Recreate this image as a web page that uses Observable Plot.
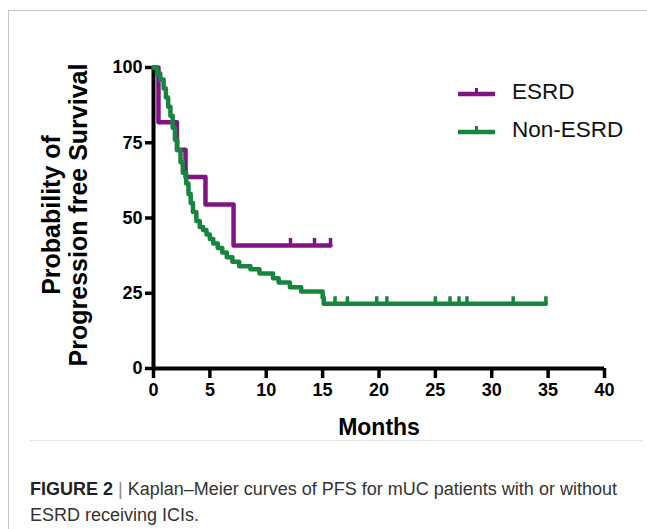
<!DOCTYPE html>
<html><head><meta charset="utf-8">
<script src="https://cdn.jsdelivr.net/npm/d3@7"></script>
<script src="https://cdn.jsdelivr.net/npm/@observablehq/plot@0.6"></script>
<style>
body{margin:0;background:#fff;font-family:"Liberation Sans",Arial,sans-serif;}
#wrap{position:relative;width:647px;height:529px;overflow:hidden;background:#fff;}
#frame{position:absolute;left:8px;top:10px;width:700px;height:600px;border-left:1.5px solid #c4c4c4;border-top:1.5px solid #c4c4c4;}
#chart{position:absolute;left:0;top:0;}
#sep{position:absolute;left:30px;top:440px;width:612px;height:1px;background:#e4e4e4;}
#legend{position:absolute;left:458px;top:73px;}
.item{display:flex;align-items:center;height:38px;font-size:22.5px;color:#111;}
.item svg{margin-right:17px;}
#caption{position:absolute;left:30px;top:476px;font-size:18px;line-height:26px;color:#333;}
#caption b{color:#222;}
#caption .bar{color:#888;}
</style></head>
<body>
<div id="wrap">
  <div id="frame"></div>
  <div id="chart"></div>
  <div id="sep"></div>
  <div id="legend"></div>
  <div id="caption"><b>FIGURE 2</b> <span class="bar">|</span> Kaplan–Meier curves of PFS for mUC patients with or without<br>ESRD receiving ICIs.</div>
</div>
<script>
// ---- data ----
const seriesNames = ["ESRD", "Non-ESRD"];
const seriesColors = ["#801482", "#15853f"];

const esrdTime = [0, 0.44, 2.08, 2.84, 4.61, 7.10, 15.70];
const esrdSurv = [100, 81.8, 72.7, 63.6, 54.5, 40.9, 40.9];
const esrdCensorTime = [12.15, 14.28, 15.70];
const esrdCensorSurv = [40.9, 40.9, 40.9];

const nonTime = [0, 0.3, 0.6, 0.9, 1.1, 1.3, 1.5, 1.7, 1.9, 2.1, 2.4, 2.6, 2.9, 3.1, 3.3, 3.5, 3.8, 4.1, 4.4, 4.7, 5.0, 5.3, 5.7, 6.1, 6.5, 7.0, 7.6, 8.6, 9.4, 10.6, 11.1, 12.1, 13.1, 15.0, 15.1, 34.8];
const nonSurv = [100, 98, 96, 93, 90, 87, 84, 80, 76, 72.5, 68.5, 65, 61.5, 58, 55, 52, 49, 47, 46, 44.5, 43, 41.5, 40, 38.5, 37, 35.5, 34, 33, 31.6, 30, 28.6, 27, 25.6, 23.5, 21.5, 21.5];
const nonCensorTime = [16.1, 17.2, 19.8, 20.7, 25.0, 26.3, 27.1, 27.8, 31.9, 34.8];
const nonCensorSurv = [21.5, 21.5, 21.5, 21.5, 21.5, 21.5, 21.5, 21.5, 21.5, 21.5];

const xTicks = [0, 5, 10, 15, 20, 25, 30, 35, 40];
const yTicks = [0, 25, 50, 75, 100];
const xTitle = "Months";
const yTitle = ["Probability of", "Progression free Survival"];

// ---- build tables ----
const esrd = esrdTime.map((t, i) => ({t, s: esrdSurv[i]}));
const non = nonTime.map((t, i) => ({t, s: nonSurv[i]}));
const esrdC = esrdCensorTime.map((t, i) => ({t, s: esrdCensorSurv[i]}));
const nonC = nonCensorTime.map((t, i) => ({t, s: nonCensorSurv[i]}));

const censorTick = {draw(ctx) { ctx.moveTo(0, 0); ctx.lineTo(0, -7.5); }};

const chart = Plot.plot({
  width: 647, height: 440,
  marginLeft: 153, marginRight: 43, marginTop: 67, marginBottom: 72,
  style: {fontFamily: "'Liberation Sans', Arial, sans-serif", color: "#000", background: "transparent"},
  x: {domain: [0, 40]},
  y: {domain: [0, 100]},
  marks: [
    Plot.axisY({ticks: yTicks, tickSize: 8, strokeWidth: 3.5, fontSize: 18, fontWeight: "bold", tickPadding: 3, label: null}),
    Plot.axisX({ticks: xTicks, tickSize: 10, strokeWidth: 3.5, fontSize: 18, fontWeight: "bold", tickPadding: 5, label: null}),
    Plot.ruleX([0], {strokeWidth: 4}),
    Plot.ruleY([0], {strokeWidth: 4}),
    Plot.line(esrd, {x: "t", y: "s", curve: "step-after", stroke: seriesColors[0], strokeWidth: 4.5}),
    Plot.dot(esrdC, {x: "t", y: "s", symbol: censorTick, fill: "none", stroke: seriesColors[0], strokeWidth: 3.5}),
    Plot.line(non, {x: "t", y: "s", curve: "step-after", stroke: seriesColors[1], strokeWidth: 4.5}),
    Plot.dot(nonC, {x: "t", y: "s", symbol: censorTick, fill: "none", stroke: seriesColors[1], strokeWidth: 3.5}),
    Plot.text([xTitle], {frameAnchor: "bottom", dy: 66, fontSize: 23, fontWeight: "bold"}),
    Plot.text([yTitle[0]], {frameAnchor: "left", textAnchor: "middle", dx: -102, dy: -3, rotate: -90, fontSize: 25, fontWeight: "bold"}),
    Plot.text([yTitle[1]], {frameAnchor: "left", textAnchor: "middle", dx: -75, dy: -3, rotate: -90, fontSize: 25, fontWeight: "bold"})
  ]
});
document.getElementById("chart").appendChild(chart);

// legend
const legend = document.getElementById("legend");
seriesNames.forEach((name, i) => {
  const item = document.createElement("div");
  item.className = "item";
  item.innerHTML = `<svg width="37" height="12"><line x1="0" x2="37" y1="8" y2="8" stroke="${seriesColors[i]}" stroke-width="4.5"/><line x1="18.5" x2="18.5" y1="8" y2="2" stroke="${seriesColors[i]}" stroke-width="3"/></svg><span>${name}</span>`;
  legend.appendChild(item);
});
</script>
</body></html>
